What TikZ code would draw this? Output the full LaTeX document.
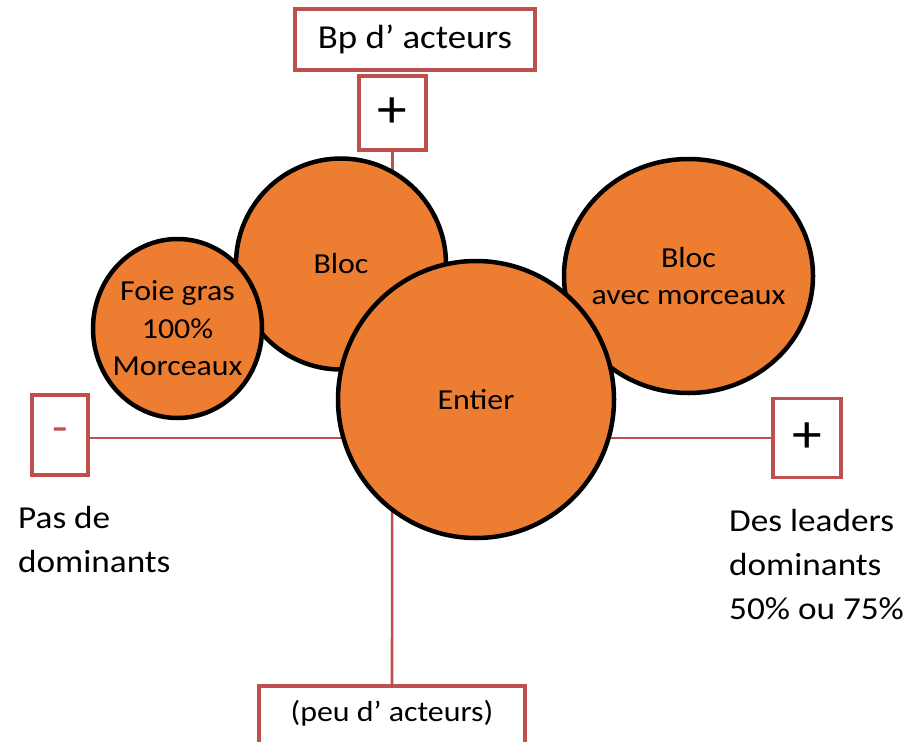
\documentclass[tikz,border=0pt]{standalone}
\usepackage{fontspec}
\setmainfont{Carlito}[FakeStretch=1.1]
\usetikzlibrary{shapes.geometric}
\definecolor{boxred}{HTML}{C0504D}
\definecolor{blobfill}{HTML}{ED7D31}
\begin{document}
\begin{tikzpicture}[x=1pt,y=-1pt,
  frame/.style={rectangle,draw=boxred,line width=3.5pt,fill=white,inner sep=0pt},
  axisline/.style={draw=boxred,line width=2.6pt},
  blob/.style={ellipse,draw=black,line width=4.5pt,fill=blobfill,inner sep=0pt},
  blobtext/.style={align=center,inner sep=0pt,font=\fontsize{29}{37.5}\selectfont},
  sidetext/.style={align=left,inner sep=0pt,anchor=north west,font=\fontsize{32}{44}\selectfont},
  sign/.style={font=\fontsize{54}{54}\selectfont}
]
\useasboundingbox (0,0) rectangle (920,741);

% framed labels at the ends of the two axes
\node[frame,minimum width=240pt,minimum height=61pt,font=\fontsize{33.5}{40}\selectfont] (top) at (415,39.5) {Bp d’ acteurs};
\node[frame,minimum width=67pt,minimum height=74pt,sign] (topplus) at (392.5,113) {+};
\node[frame,minimum width=56pt,minimum height=80pt,text=boxred,font=\fontsize{46}{46}\selectfont] (minus) at (60,435) {-};
\node[frame,minimum width=68pt,minimum height=79pt,sign] (rightplus) at (807,438) {+};
\node[frame,minimum width=266pt,minimum height=80pt] (bottombox) at (392,726) {};
\node[inner sep=0pt,font=\fontsize{29}{35}\selectfont] (bottomtext) at (392,713) {(peu d’ acteurs)};

% axes
\draw[axisline] (topplus.south) -- (bottombox.north);
\draw[axisline] (minus.east |- rightplus.west) -- (rightplus.west);

% segments
\node[blob,minimum width=210pt,minimum height=211pt] (bloc) at (341,264) {};
\node[blobtext] at (bloc) {Bloc};
\node[blob,minimum width=169pt,minimum height=179pt] (foiegras) at (177.5,328.5) {};
\node[blobtext] at (foiegras) {Foie gras\\100\%\\Morceaux};
\node[blob,minimum width=249pt,minimum height=234pt] (morceaux) at (688.5,276) {};
\node[blobtext] at (morceaux) {Bloc\\avec morceaux};
\node[blob,minimum width=276pt,minimum height=277pt] (entier) at (476,399.5) {};
\node[blobtext] at (entier) {Entier};

% axis captions
\node[sidetext] (leftcaption) at (18,506) {Pas de\\dominants};
\node[sidetext] (rightcaption) at (729,509) {Des leaders\\dominants\\50\% ou 75\%};
\end{tikzpicture}
\end{document}
